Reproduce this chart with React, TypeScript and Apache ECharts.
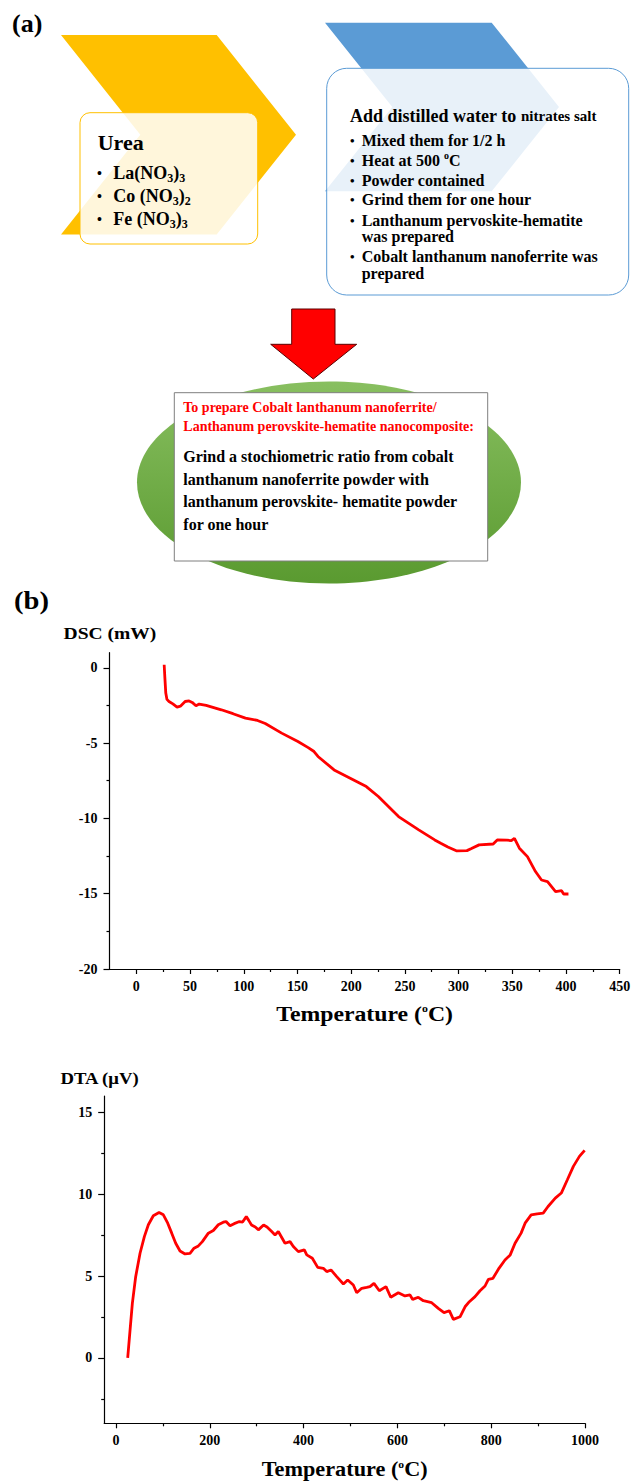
import React, { useEffect, useRef } from 'react';
import * as echarts from 'echarts';

const FONT = 'Liberation Serif';

// ---- DSC panel ----
const dscXTicks = [0, 50, 100, 150, 200, 250, 300, 350, 400, 450];
const dscXMinor = [25, 75, 125, 175, 225, 275, 325, 375, 425];
const dscYTicks = [0, -5, -10, -15, -20];
const dscYMinor = [-2.5, -7.5, -12.5, -17.5];
const dscTemp = [25.9, 26.5, 27.4, 28.5, 30.4, 34, 37.9, 41, 45.4, 49.1, 52, 55.5, 58.5, 65, 79.1, 90, 101.6, 112.8, 120, 135.3, 150.4, 160, 165.4, 169.1, 184.1, 199.1, 214.1, 225.3, 244.1, 262.9, 277.8, 283.4, 290, 298.4, 307.8, 312, 319.1, 332.2, 336, 345, 349.1, 352, 356.6, 364.1, 371.6, 377.2, 382.8, 390.3, 395.9, 397.8, 402.3];
const dscVal = [0.2, -0.6, -1.68, -2.1, -2.24, -2.4, -2.61, -2.55, -2.24, -2.2, -2.3, -2.52, -2.41, -2.5, -2.79, -3.05, -3.34, -3.5, -3.7, -4.34, -4.9, -5.3, -5.56, -5.89, -6.78, -7.33, -7.89, -8.55, -9.88, -10.76, -11.43, -11.65, -11.9, -12.16, -12.14, -12.0, -11.76, -11.7, -11.43, -11.45, -11.47, -11.32, -11.98, -12.54, -13.53, -14.09, -14.2, -14.86, -14.8, -15.02, -15.02];

// ---- DTA panel ----
const dtaXTicks = [0, 200, 400, 600, 800, 1000];
const dtaXMinor = [100, 300, 500, 700, 900];
const dtaYTicks = [0, 5, 10, 15];
const dtaYMinor = [-2.5, 2.5, 7.5, 12.5];
const dtaTemp = [25.1, 30.1, 35, 42.1, 51.4, 60.6, 69.1, 79.7, 91.9, 101.1, 110.4, 118.9, 127.4, 136.6, 147.3, 157.9, 166.5, 175.7, 184.2, 197, 207.6, 218.2, 228.9, 234.7, 243.2, 252, 263.3, 270, 277.9, 283, 289, 297, 303.5, 314.7, 322, 332, 339.1, 346.1, 360.4, 371.1, 378.1, 388.8, 401.6, 406.7, 418.6, 430.1, 442, 449.3, 458.4, 470.6, 484.8, 494, 506, 513.2, 523.9, 534.5, 541.5, 550, 561.4, 575.6, 585.7, 601.9, 616.1, 626.8, 632.5, 644.5, 655.2, 673, 687.1, 699.3, 710.6, 719.2, 733.4, 744.1, 753.3, 765.4, 776, 786.7, 793.8, 803.6, 816.4, 829.2, 840.4, 850.7, 863.6, 872.1, 885, 897.9, 910.7, 921, 936.5, 949.3, 962.2, 975, 987.9, 999];
const dtaVal = [0, 1.7, 3.33, 4.96, 6.39, 7.41, 8.13, 8.68, 8.88, 8.74, 8.23, 7.62, 7.0, 6.53, 6.35, 6.39, 6.7, 6.84, 7.1, 7.62, 7.78, 8.13, 8.29, 8.33, 8.07, 8.2, 8.33, 8.3, 8.63, 8.4, 8.12, 8.0, 7.82, 8.12, 8.0, 7.72, 7.51, 7.72, 7.0, 7.1, 6.8, 6.49, 6.6, 6.29, 6.09, 5.53, 5.47, 5.27, 5.37, 4.96, 4.51, 4.76, 4.45, 3.98, 4.25, 4.31, 4.35, 4.55, 4.1, 4.35, 3.7, 3.98, 3.78, 3.84, 3.57, 3.7, 3.49, 3.37, 3.02, 2.76, 2.88, 2.35, 2.51, 3.12, 3.43, 3.74, 4.1, 4.39, 4.8, 4.86, 5.47, 5.98, 6.29, 7.0, 7.62, 8.23, 8.74, 8.8, 8.84, 9.25, 9.76, 10.07, 10.88, 11.7, 12.31, 12.68];

// ---- scheme texts ----
const ureaItems = [
  '{m|La(NO}{s|3}{m|)}{s|3}',
  '{m|Co (NO}{s|3}{m|)}{s|2}',
  '{m|Fe (NO}{s|3}{m|)}{s|3}',
];
const waterItems = [
  '{m|Mixed them for 1/2 h}',
  '{m|Heat at 500 }{sup|o}{m|C}',
  '{m|Powder contained}',
  '{m|Grind them for one hour}',
  '{m|Lanthanum pervoskite-hematite}',
  '',
  '{m|Cobalt lanthanum nanoferrite was}',
  '',
];
const waterCont = ['', '', '', '', '', 'was prepared', '', 'prepared'];
const redLines = ['To prepare Cobalt lanthanum nanoferrite/', 'Lanthanum perovskite-hematite nanocomposite:'];
const blackLines = [
  'Grind a stochiometric ratio from cobalt',
  'lanthanum nanoferrite powder with',
  'lanthanum perovskite- hematite powder',
  'for one hour',
];

const base = { fontFamily: FONT, fontWeight: 'bold', fill: '#000' };

function txt(x: number, y: number, text: string, size: number, extra: any = {}, scaleX = 1) {
  return {
    type: 'text', x, y, z: 20, scaleX,
    style: { ...base, text, fontSize: size, align: 'left', verticalAlign: 'middle', ...extra },
  };
}

function richTxt(x: number, y: number, text: string, size: number, lh: number, subSize: number) {
  return {
    type: 'text', x, y, z: 20,
    style: {
      ...base, text, fontSize: size, align: 'left', verticalAlign: 'middle',
      rich: {
        m: { ...base, fontSize: size, lineHeight: lh },
        s: { ...base, fontSize: subSize, lineHeight: subSize, verticalAlign: 'bottom' },
        sup: { ...base, fontSize: subSize, lineHeight: subSize, verticalAlign: 'top' },
        n: { ...base, fontSize: 15, lineHeight: lh },
      },
    },
  };
}

function mainAxis(gridIndex: number, min: number, max: number, ticks: number[], isX: boolean) {
  return {
    gridIndex, type: 'value', min, max, position: isX ? 'bottom' : 'left',
    axisLine: { show: true, onZero: false, lineStyle: { color: '#000', width: 1.2 } },
    axisTick: { show: true, customValues: ticks, length: isX ? 5 : 6, lineStyle: { color: '#000', width: 1.2 } },
    axisLabel: {
      show: true, customValues: ticks, margin: isX ? 10 : 12, color: '#000',
      fontFamily: FONT, fontWeight: 'bold', fontSize: 14,
      formatter: (v: number) => String(v),
    },
    splitLine: { show: false },
  };
}
function minorAxis(gridIndex: number, min: number, max: number, ticks: number[], isX: boolean) {
  return {
    gridIndex, type: 'value', min, max, position: isX ? 'bottom' : 'left',
    axisLine: { show: false, onZero: false },
    axisTick: { show: true, customValues: ticks, length: 3, lineStyle: { color: '#000', width: 1.2 } },
    axisLabel: { show: false },
    splitLine: { show: false },
  };
}

export default function App() {
  const ref = useRef<HTMLDivElement>(null);
  useEffect(() => {
    if (!ref.current) return;
    const chart = echarts.init(ref.current, undefined, { renderer: 'svg' });

    const graphic: any[] = [];
    // (a)
    graphic.push(txt(12, 23, '(a)', 26));
    // orange chevron
    graphic.push({ type: 'polygon', z: 1, shape: { points: [[61, 35], [216.7, 35], [296, 134.7], [216.7, 234.4], [61, 234.4], [140.3, 134.7]] }, style: { fill: '#FFC000' } });
    graphic.push({ type: 'rect', z: 2, shape: { x: 80, y: 112.7, width: 177.7, height: 131.3, r: 10 }, style: { fill: 'rgba(255,255,255,0.86)', stroke: '#FFC000', lineWidth: 1 } });
    graphic.push(txt(97.7, 142.7, 'Urea', 22));
    const ureaY = [173, 196, 219];
    ureaItems.forEach((t, i) => {
      graphic.push(txt(97, ureaY[i], '•', 14));
      graphic.push(richTxt(113.3, ureaY[i], t, 18, 22, 12));
    });
    // blue chevron
    graphic.push({ type: 'polygon', z: 1, shape: { points: [[325, 22.7], [491.7, 22.7], [559, 107], [491.7, 191.3], [325, 191.3], [392.3, 107]] }, style: { fill: '#5B9BD5' } });
    graphic.push({ type: 'rect', z: 2, shape: { x: 326.7, y: 68.3, width: 302, height: 226.7, r: 20 }, style: { fill: 'rgba(255,255,255,0.86)', stroke: '#5B9BD5', lineWidth: 1 } });
    graphic.push(richTxt(350, 116, '{m|Add distilled water to }{n|nitrates salt}', 18, 22, 11));
    const waterY = [140, 160, 180, 199.3, 220, 236.7, 256, 273.3];
    waterItems.forEach((t, i) => {
      if (t) {
        graphic.push(txt(350, waterY[i], '•', 13));
        graphic.push(richTxt(361.7, waterY[i], t, 16, 20, 10));
      }
      if (waterCont[i]) graphic.push(txt(361.7, waterY[i], waterCont[i], 16));
    });
    // red arrow
    graphic.push({ type: 'polygon', z: 5, shape: { points: [[291.7, 309], [335, 309], [335, 344.3], [356.7, 344.3], [313.3, 379], [270.7, 344.3], [291.7, 344.3]] }, style: { fill: '#FF0000', stroke: '#5a0000', lineWidth: 1 } });
    // green ellipse
    graphic.push({ type: 'ellipse', z: 1, shape: { cx: 329, cy: 482.5, rx: 192, ry: 101 }, style: { fill: new echarts.graphic.LinearGradient(0, 0, 0, 1, [{ offset: 0, color: '#88bf60' }, { offset: 1, color: '#5a9a30' }]) } });
    graphic.push({ type: 'rect', z: 3, shape: { x: 174.3, y: 392.7, width: 313.4, height: 168.3 }, style: { fill: '#ffffff', stroke: '#7f7f7f', lineWidth: 1 } });
    const redY = [407.3, 426.7];
    redLines.forEach((t, i) => graphic.push(txt(183.3, redY[i], t, 14, { fill: '#FF0000' })));
    const blackY = [456, 479, 501.7, 524];
    blackLines.forEach((t, i) => graphic.push(txt(183.3, blackY[i], t, 16)));
    // (b)
    graphic.push(txt(14, 600, '(b)', 26, {}, 1.1));
    graphic.push(txt(63.6, 633, 'DSC (mW)', 17, {}, 1.15));
    graphic.push(txt(60.4, 1078, 'DTA (μV)', 17, {}, 1.1));
    const tempTitle = (cx: number, cy: number, size: number, sx: number) => ({
      type: 'text', x: cx, y: cy, z: 20, scaleX: sx,
      style: {
        ...base, text: '{m|Temperature (}{sup|o}{m|C)}', fontSize: size, align: 'center', verticalAlign: 'middle',
        rich: {
          m: { ...base, fontSize: size, lineHeight: size },
          sup: { ...base, fontSize: Math.round(size * 0.5), lineHeight: Math.round(size * 0.5), verticalAlign: 'top' },
        },
      },
    });
    graphic.push(tempTitle(364.6, 1014, 22, 1.08));
    graphic.push(tempTitle(344.7, 1469.5, 21, 1.06));

    const option: any = {
      animation: false,
      backgroundColor: '#ffffff',
      grid: [
        { left: 109.5, top: 652.7, width: 510.2, height: 316.3, outerBoundsMode: 'none' },
        { left: 104.2, top: 1096, width: 480.9, height: 327.3, outerBoundsMode: 'none' },
      ],
      xAxis: [
        mainAxis(0, -25, 450, dscXTicks, true),
        minorAxis(0, -25, 450, dscXMinor, true),
        mainAxis(1, -25, 1000, dtaXTicks, true),
        minorAxis(1, -25, 1000, dtaXMinor, true),
      ],
      yAxis: [
        mainAxis(0, -20, 1, dscYTicks, false),
        minorAxis(0, -20, 1, dscYMinor, false),
        mainAxis(1, -4, 16, dtaYTicks, false),
        minorAxis(1, -4, 16, dtaYMinor, false),
      ],
      series: [
        {
          type: 'line', xAxisIndex: 0, yAxisIndex: 0, symbol: 'none', showSymbol: false,
          data: dscTemp.map((t, i) => [t, dscVal[i]]),
          lineStyle: { color: '#FF0000', width: 2.8 },
        },
        {
          type: 'line', xAxisIndex: 2, yAxisIndex: 2, symbol: 'none', showSymbol: false,
          data: dtaTemp.map((t, i) => [t, dtaVal[i]]),
          lineStyle: { color: '#FF0000', width: 2.8 },
        },
      ],
      graphic,
    };
    chart.setOption(option);
    return () => chart.dispose();
  }, []);
  return <div ref={ref} style={{ position: 'absolute', left: 0, top: 0, width: 631, height: 1482 }} />;
}
